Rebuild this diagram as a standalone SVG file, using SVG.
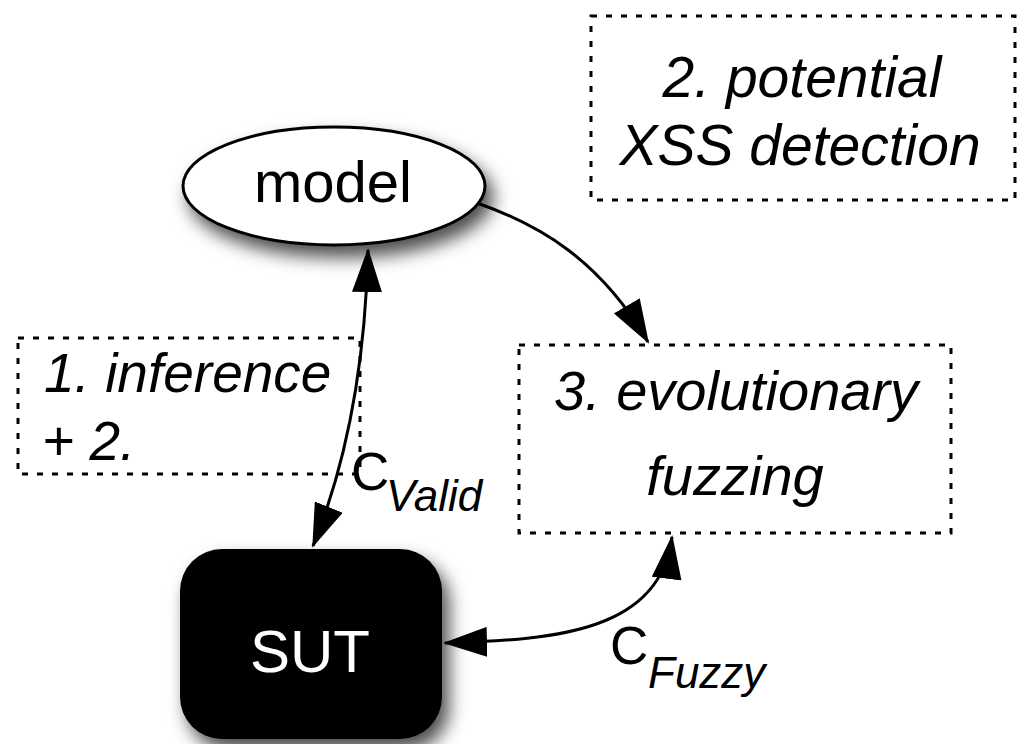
<svg xmlns="http://www.w3.org/2000/svg" width="1019" height="744" viewBox="0 0 1019 744">
  <style>
    .lbl { font-family: "Liberation Sans", Arial, sans-serif; fill: #000; }
    .it { font-style: italic; }
    .box { fill: none; stroke: #000; stroke-width: 3; stroke-dasharray: 6 9; }
    .conn { fill: none; stroke: #000; stroke-width: 3; }
  </style>
  <defs>
    <filter id="shadow" x="-20%" y="-20%" width="150%" height="160%">
      <feDropShadow dx="7" dy="11" stdDeviation="9" flood-color="#000" flood-opacity="0.7"/>
    </filter>
    <marker id="arr" viewBox="0 0 44 30" refX="42" refY="15" markerWidth="44" markerHeight="30" orient="auto-start-reverse" markerUnits="userSpaceOnUse">
      <path d="M0,0 L44,15 L0,30 z" fill="#000"/>
    </marker>
  </defs>
  <rect width="1019" height="744" fill="#fff"/>

  <!-- dashed annotation boxes -->
  <g id="xss-detection">
    <rect class="box" x="591" y="16" width="424" height="184"/>
    <text class="lbl it" x="802" y="97" font-size="57" text-anchor="middle">2. potential</text>
    <text class="lbl it" x="800" y="165" font-size="57" text-anchor="middle">XSS detection</text>
  </g>

  <g id="inference">
    <rect class="box" x="18" y="338" width="342" height="136"/>
    <text class="lbl it" x="44" y="392" font-size="55">1. inference</text>
    <text class="lbl it" x="42" y="460" font-size="55">+ 2.</text>
  </g>

  <g id="evolutionary-fuzzing">
    <rect class="box" x="519" y="345" width="432" height="188"/>
    <text class="lbl it" x="736" y="410" font-size="56" text-anchor="middle">3. evolutionary</text>
    <text class="lbl it" x="735" y="495" font-size="56" text-anchor="middle">fuzzing</text>
  </g>

  <!-- model node -->
  <g id="model">
    <ellipse cx="334" cy="186" rx="151" ry="59" fill="#fff" stroke="#000" stroke-width="3" filter="url(#shadow)"/>
    <text class="lbl" x="333" y="202" font-size="58" text-anchor="middle">model</text>
  </g>

  <!-- system under test -->
  <g id="sut">
    <rect x="180" y="549" width="262" height="190" rx="42" ry="42" fill="#000" filter="url(#shadow)"/>
    <text class="lbl" x="310" y="672" font-size="60" text-anchor="middle" style="fill:#fff">SUT</text>
  </g>

  <!-- connectors -->
  <g id="connectors">
    <path class="conn" d="M477,203 C540,225 600,260 648,342" marker-end="url(#arr)"/>
    <path class="conn" d="M368,250 Q364,420 313,546" marker-start="url(#arr)" marker-end="url(#arr)"/>
    <path class="conn" d="M445,643 C560,640 660,630 672,537" marker-start="url(#arr)" marker-end="url(#arr)"/>
  </g>

  <!-- connector labels -->
  <g id="label-valid">
    <text class="lbl" x="351" y="490" font-size="53">C</text>
    <text class="lbl it" x="386" y="511" font-size="44">Valid</text>
  </g>
  <g id="label-fuzzy">
    <text class="lbl" x="610" y="664" font-size="53">C</text>
    <text class="lbl it" x="648" y="688" font-size="44">Fuzzy</text>
  </g>
</svg>
